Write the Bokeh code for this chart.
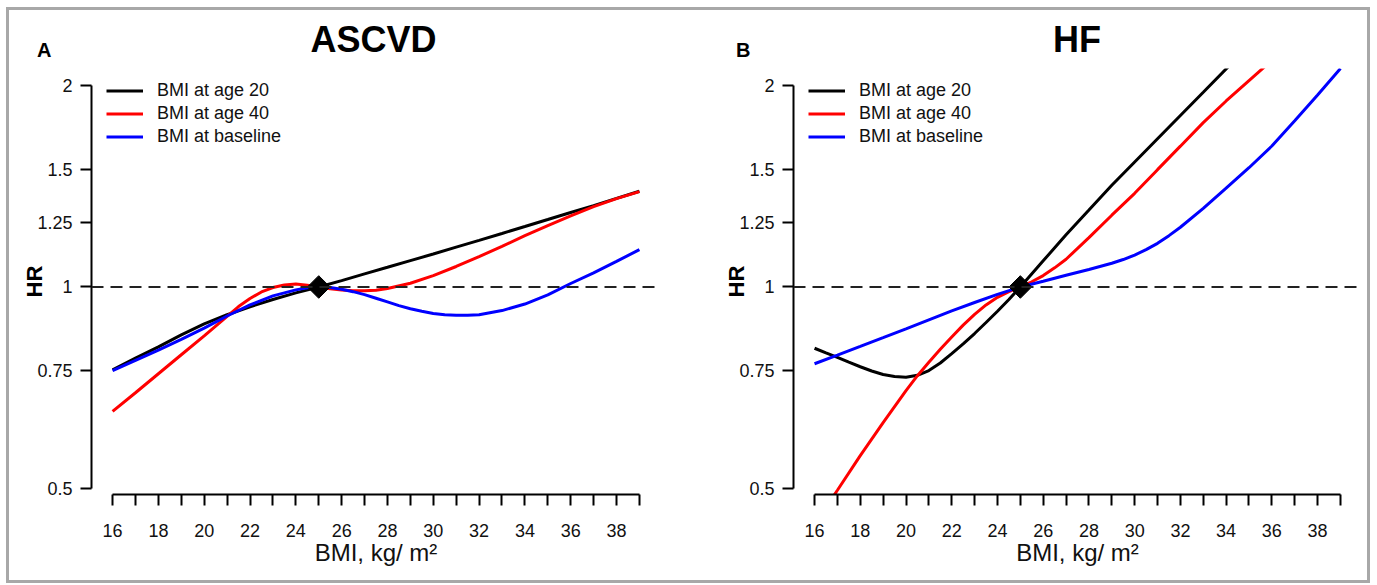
import numpy as np
from bokeh.plotting import figure
from bokeh.models import Range1d, FixedTicker, Span, Legend, LegendItem, Div
from bokeh.layouts import row, column
from bokeh.embed import file_html
from bokeh.resources import INLINE

# ---------------- data ----------------
# Panel A: ASCVD
a_bmi20 = [16, 17, 18, 19, 20, 21, 22, 23, 24, 25, 26, 27, 28, 29, 30, 31, 32, 33, 34, 35, 36, 37, 38, 39]
a_hr20 = [0.752, 0.783, 0.814, 0.848, 0.881, 0.909, 0.934, 0.958, 0.980, 1.000, 1.022, 1.046, 1.070,
          1.095, 1.120, 1.147, 1.174, 1.202, 1.231, 1.261, 1.292, 1.323, 1.356, 1.390]

a_bmi40 = [16, 17, 18, 19, 20, 20.5, 21, 21.5, 22, 22.5, 23, 23.5, 24, 24.5, 25, 25.5, 26, 26.5, 27, 27.5,
           28, 29, 30, 31, 32, 33, 34, 35, 36, 37, 38, 39]
a_hr40 = [0.652, 0.695, 0.742, 0.792, 0.845, 0.874, 0.904, 0.935, 0.961, 0.983, 0.998, 1.007, 1.010, 1.006,
          1.000, 0.994, 0.990, 0.987, 0.987, 0.989, 0.995, 1.013, 1.040, 1.073, 1.110, 1.150, 1.193, 1.235,
          1.277, 1.318, 1.355, 1.388]

a_bmib = [16, 17, 18, 19, 20, 21, 22, 23, 24, 24.5, 25, 25.5, 26, 26.5, 27, 27.5, 28, 28.5, 29, 29.5, 30,
          30.5, 31, 31.5, 32, 33, 34, 35, 36, 37, 38, 39]
a_hrb = [0.750, 0.777, 0.805, 0.835, 0.868, 0.905, 0.940, 0.970, 0.990, 0.997, 1.000, 0.998, 0.992, 0.984,
         0.974, 0.962, 0.950, 0.938, 0.928, 0.920, 0.913, 0.909, 0.907, 0.907, 0.909, 0.922, 0.943, 0.973,
         1.012, 1.050, 1.092, 1.137]

# Panel B: HF
b_bmi20 = [16, 16.5, 17, 17.5, 18, 18.5, 19, 19.5, 20, 20.5, 21, 21.5, 22, 22.5, 23, 23.5, 24, 24.5, 25,
           26, 27, 28, 29, 30, 31, 32, 33, 34, 34.5]
b_hr20 = [0.810, 0.797, 0.785, 0.772, 0.760, 0.749, 0.740, 0.735, 0.733, 0.738, 0.750, 0.770, 0.795, 0.822,
          0.852, 0.885, 0.920, 0.958, 1.000, 1.094, 1.197, 1.303, 1.419, 1.537, 1.665, 1.804, 1.954, 2.117, 2.200]

b_bmi40 = [16, 17, 18, 19, 20, 20.5, 21, 21.5, 22, 22.5, 23, 23.5, 24, 24.5, 25, 25.5, 26, 26.5, 27, 28, 29,
           30, 31, 32, 33, 34, 35, 36]
b_hr40 = [0.442, 0.497, 0.560, 0.627, 0.700, 0.737, 0.772, 0.807, 0.842, 0.877, 0.910, 0.940, 0.965, 0.984,
          1.000, 1.018, 1.040, 1.068, 1.100, 1.185, 1.280, 1.380, 1.497, 1.623, 1.760, 1.896, 2.034, 2.180]

b_bmib = [16, 17, 18, 19, 20, 21, 22, 23, 24, 25, 26, 27, 28, 29, 29.5, 30, 30.5, 31, 31.5, 32, 33, 34, 35,
          36, 37, 38, 39]
b_hrb = [0.768, 0.791, 0.815, 0.840, 0.866, 0.893, 0.921, 0.948, 0.975, 1.000, 1.020, 1.041, 1.062, 1.085,
         1.099, 1.116, 1.137, 1.162, 1.193, 1.228, 1.310, 1.405, 1.507, 1.624, 1.772, 1.935, 2.120]

ref_bmi = [25]
ref_hr = [1.0]

series_labels = ["BMI at age 20", "BMI at age 40", "BMI at baseline"]
series_colors = ["#000000", "#ff0000", "#0000ff"]

x_major = [16, 18, 20, 22, 24, 26, 28, 30, 32, 34, 36, 38]
x_minor = [17, 19, 21, 23, 25, 27, 29, 31, 33, 35, 37, 39]
y_ticks = [0.5, 0.75, 1.0, 1.25, 1.5, 2.0]
y_labels = ["0.5", "0.75", "1", "1.25", "1.5", "2"]

FONT = "Liberation Sans"


def make_header(title, letter, width, letter_x, title_cx):
    html = (
        f'<div style="position:relative;width:{width}px;height:58px;font-family:\'{FONT}\';color:#000;">'
        f'<div style="position:absolute;left:{letter_x}px;top:29.5px;font-size:20px;font-weight:bold;'
        f'line-height:1;white-space:nowrap;">{letter}</div>'
        f'<div style="position:absolute;left:{title_cx - 200}px;width:400px;top:12.3px;font-size:36px;'
        f'font-weight:bold;line-height:1;text-align:center;white-space:nowrap;">{title}</div>'
        '</div>'
    )
    return Div(text=html, width=width, height=58, margin=0)


def make_panel(curves, width, left_border, right_border):
    p = figure(width=width, height=512,
               x_range=Range1d(15.08, 39.92), y_range=Range1d(0.4898, 2.12),
               y_axis_type="log", output_backend="svg", toolbar_location=None,
               min_border_left=left_border, min_border_right=right_border,
               min_border_top=0, min_border_bottom=86)
    p.title.text = ""
    p.title.standoff = 0
    p.background_fill_color = "white"
    p.border_fill_color = "white"
    p.outline_line_color = None
    p.xgrid.visible = False
    p.ygrid.visible = False

    p.add_layout(Span(location=ref_hr[0], dimension="width", line_color="#222222",
                      line_width=2, line_dash="12 7"))

    renderers = []
    for (xs, ys), col in zip(curves, series_colors):
        r = p.line(xs, ys, line_color=col, line_width=3)
        renderers.append(r)

    p.scatter(ref_bmi, ref_hr, marker="square", size=16, angle=np.pi / 4,
              fill_color="black", line_color="black")

    legend = Legend(items=[LegendItem(label=l, renderers=[r]) for l, r in zip(series_labels, renderers)],
                    location=(15, 346), padding=0, spacing=0, margin=0,
                    glyph_width=37, glyph_height=23, label_height=23, label_standoff=14,
                    label_text_font=FONT, label_text_font_size="18px", label_text_color="#111111",
                    border_line_color=None, background_fill_color=None)
    p.add_layout(legend)

    xa = p.xaxis[0]
    xa.ticker = FixedTicker(ticks=x_major, minor_ticks=x_minor)
    xa.bounds = (16, 39)
    xa.major_tick_out = 11
    xa.major_tick_in = 0
    xa.minor_tick_out = 11
    xa.minor_tick_in = 0
    xa.axis_line_width = 2
    xa.major_tick_line_width = 2
    xa.minor_tick_line_width = 2
    xa.axis_line_color = "black"
    xa.major_tick_line_color = "black"
    xa.minor_tick_line_color = "black"
    xa.major_label_text_font = FONT
    xa.major_label_text_font_size = "18px"
    xa.major_label_text_color = "#111111"
    xa.major_label_standoff = 18
    xa.axis_label = "BMI, kg/ m\u00b2"
    xa.axis_label_text_font = FONT
    xa.axis_label_text_font_size = "24px"
    xa.axis_label_text_font_style = "normal"
    xa.axis_label_text_color = "#111111"
    xa.axis_label_standoff = -1

    ya = p.yaxis[0]
    ya.ticker = FixedTicker(ticks=y_ticks)
    ya.major_label_overrides = {t: s for t, s in zip(y_ticks, y_labels)}
    ya.bounds = (0.5, 2)
    ya.major_tick_out = 11
    ya.major_tick_in = 0
    ya.minor_tick_out = 0
    ya.minor_tick_in = 0
    ya.minor_tick_line_color = None
    ya.axis_line_width = 2
    ya.major_tick_line_width = 2
    ya.axis_line_color = "black"
    ya.major_tick_line_color = "black"
    ya.major_label_text_font = FONT
    ya.major_label_text_font_size = "18px"
    ya.major_label_text_color = "#111111"
    ya.major_label_standoff = 8
    ya.axis_label = "HR"
    ya.axis_label_text_font = FONT
    ya.axis_label_text_font_size = "22px"
    ya.axis_label_text_font_style = "bold"
    ya.axis_label_text_color = "black"
    ya.axis_label_standoff = -13
    return p


ha = make_header("ASCVD", "A", 701, 28, 364.5)
pa = make_panel([(a_bmi20, a_hr20), (a_bmi40, a_hr40), (a_bmib, a_hrb)], 701, 82, 50)
hb = make_header("HF", "B", 657, 26, 367)
pb = make_panel([(b_bmi20, b_hr20), (b_bmi40, b_hr40), (b_bmib, b_hrb)], 657, 83, 6)

layout = row(column(ha, pa, spacing=0), column(hb, pb, spacing=0), spacing=0,
             margin=(7, 0, 0, 6), styles={"border": "3px solid #a8a8a8"})

open("out.html", "w").write(file_html(layout, INLINE))
